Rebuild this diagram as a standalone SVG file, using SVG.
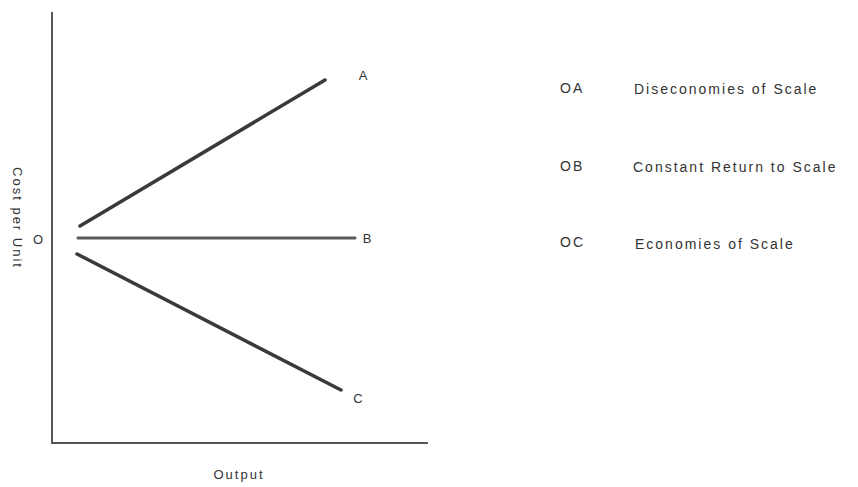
<svg xmlns="http://www.w3.org/2000/svg" width="858" height="487" viewBox="0 0 858 487">
<style>
text{font-family:"Liberation Sans",Arial,sans-serif;fill:#333;font-size:13px}
.axis{stroke:#555;stroke-width:2;fill:none}
.curve{stroke:#3a3a3a;stroke-width:3.5;stroke-linecap:round;fill:none}
.lg{font-size:14px;letter-spacing:2px}
</style>
<rect width="858" height="487" fill="#fff"/>
<g id="axes">
<path class="axis" d="M52 12 V443 H428"/>
<text x="239" y="479" text-anchor="middle" letter-spacing="2">Output</text>
<text transform="translate(13 218) rotate(90)" text-anchor="middle" letter-spacing="2">Cost per Unit</text>
<text x="38" y="244" text-anchor="middle">O</text>
</g>
<g id="connectors">
<line class="curve" x1="80" y1="226" x2="325" y2="80"/>
<line class="curve" x1="78" y1="238" x2="355" y2="238" style="stroke:#5a5a5a;stroke-width:3"/>
<line class="curve" x1="77" y1="254" x2="341" y2="390"/>
</g>
<g id="labelA"><text x="363" y="80" text-anchor="middle">A</text></g>
<g id="labelB"><text x="367" y="243" text-anchor="middle">B</text></g>
<g id="labelC"><text x="358" y="403" text-anchor="middle">C</text></g>
<g id="legend">
<text class="lg" x="560" y="93">OA</text>
<text class="lg" x="634" y="94">Diseconomies of Scale</text>
<text class="lg" x="560" y="171">OB</text>
<text class="lg" x="633" y="172">Constant Return to Scale</text>
<text class="lg" x="560" y="247">OC</text>
<text class="lg" x="635" y="249">Economies of Scale</text>
</g>
</svg>
